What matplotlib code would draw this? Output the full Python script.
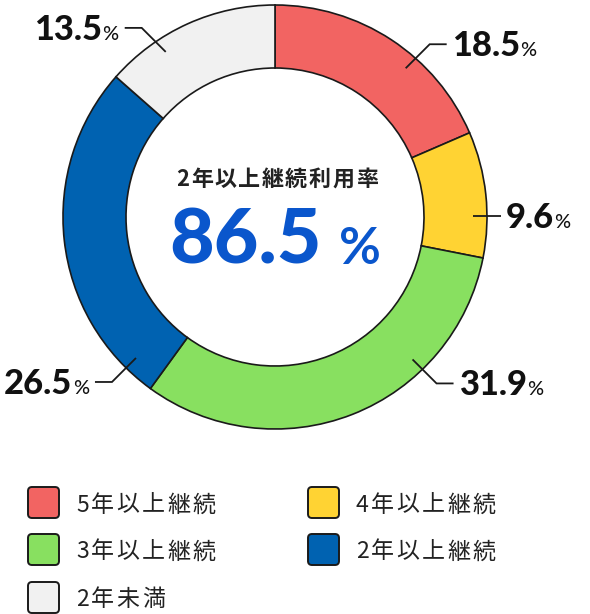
import matplotlib
matplotlib.use('Agg')
import matplotlib.pyplot as plt
from matplotlib.patches import FancyBboxPatch
import numpy as np

# ---- data ----
categories = ['5年以上継続', '4年以上継続', '3年以上継続', '2年以上継続', '2年未満']
values = [18.5, 9.6, 31.9, 26.5, 13.5]
value_labels = ['18.5', '9.6', '31.9', '26.5', '13.5']
center_title = '2年以上継続利用率'
center_value = '86.5'

# ---- style ----
colors = ['#F26462', '#FFD333', '#88E060', '#0062B1', '#F1F1F1']
label_angles = [48.7, 0.3, -46.0, 225.4, 123.5]   # where the leader lines start (deg)
CJK = ['Noto Sans CJK JP', 'DejaVu Sans']
NUM = ['Lato', 'DejaVu Sans']
INK = '#111111'

W, H = 590, 614
fig = plt.figure(figsize=(W / 100, H / 100), dpi=100)
ax = fig.add_axes([0, 0, 1, 1])

CX, CY = 275, H - 217
R_OUT, RING = 212, 63

ax.pie(values, colors=colors, startangle=90, counterclock=False,
       center=(CX, CY), radius=R_OUT, frame=True,
       wedgeprops=dict(width=RING, edgecolor='#1a1a1a', linewidth=1.2))
ax.set_xlim(0, W)
ax.set_ylim(0, H)
ax.set_aspect('equal')
ax.axis('off')

renderer = fig.canvas.get_renderer()


def px(v):
    return v * 0.72  # pixels -> points at 100 dpi


def width_of(s, **kw):
    t = ax.text(0, 0, s, **kw)
    w = t.get_window_extent(renderer).width
    t.remove()
    return w


def spaced_text(x, y, s, spacing, ha='left', **kw):
    widths = [width_of(ch, **kw) for ch in s]
    total = sum(widths) + spacing * (len(s) - 1)
    if ha == 'center':
        x0 = x - total / 2
    elif ha == 'right':
        x0 = x - total
    else:
        x0 = x
    for ch, w in zip(s, widths):
        ax.text(x0, y, ch, ha='left', va='baseline', **kw)
        x0 += w + spacing
    return total


# ---- leader lines and value labels ----
num_kw = dict(family=NUM, fontweight='black', fontsize=px(34.5), color=INK)
pct_kw = dict(family=NUM, fontweight='medium', fontsize=px(20), color=INK)
R_START = 198
for lab, ang in zip(value_labels, label_angles):
    a = np.deg2rad(ang)
    sx, sy = CX + R_START * np.cos(a), CY + R_START * np.sin(a)
    dx = 1 if np.cos(a) > 0 else -1
    if abs(np.sin(a)) < 0.2:
        ex, ey = sx, sy
        hx = ex + dx * 28
    else:
        dy = 1 if np.sin(a) > 0 else -1
        ex, ey = sx + dx * 24, sy + dy * 24
        hx = ex + dx * 17
    ax.plot([sx, ex, hx], [sy, ey, ey], color='#1a1a1a', lw=1.3,
            solid_capstyle='butt', solid_joinstyle='miter')
    base = ey - 12
    if dx > 0:
        tx = hx + 5
        t = ax.text(tx, base, lab, ha='left', va='baseline', **num_kw)
        w = t.get_window_extent(renderer).width
        ax.text(tx + w + 0.5, base, '%', ha='left', va='baseline', **pct_kw)
    else:
        tx = hx - 6
        t = ax.text(tx, base, '%', ha='right', va='baseline', **pct_kw)
        w = t.get_window_extent(renderer).width
        ax.text(tx - w - 0.5, base, lab, ha='right', va='baseline', **num_kw)

# ---- center texts ----
spaced_text(277, H - 186, center_title, 1.6, ha='center',
            family=CJK, fontweight='bold', fontsize=px(22), color='#222222')

big_kw = dict(family=NUM, fontweight='black', fontsize=px(77), color='#0A56CC')
t = ax.text(169, H - 264, center_value, ha='left', va='baseline', **big_kw)
w = t.get_window_extent(renderer).width
ax.text(169 + w + 18, H - 264, '%', ha='left', va='baseline',
        family=NUM, fontweight='bold', fontsize=px(51), color='#0A56CC')

# ---- legend ----
col_x = [28, 308]
row_top = [487, 534, 582]
SQ = 31
for i, (cat, col) in enumerate(zip(categories, colors)):
    r, c = divmod(i, 2)
    x0 = col_x[c]
    y_top = row_top[r]
    box = FancyBboxPatch((x0, H - y_top - SQ), SQ, SQ,
                         boxstyle='round,pad=0,rounding_size=4',
                         facecolor=col, edgecolor='#1a1a1a', linewidth=1.4)
    ax.add_patch(box)
    yc = y_top + SQ / 2
    spaced_text(x0 + 48, H - (yc + 9), cat, 2.3,
                family=CJK, fontweight='normal', fontsize=px(23), color='#222222')

fig.savefig('out.png', dpi=100)
